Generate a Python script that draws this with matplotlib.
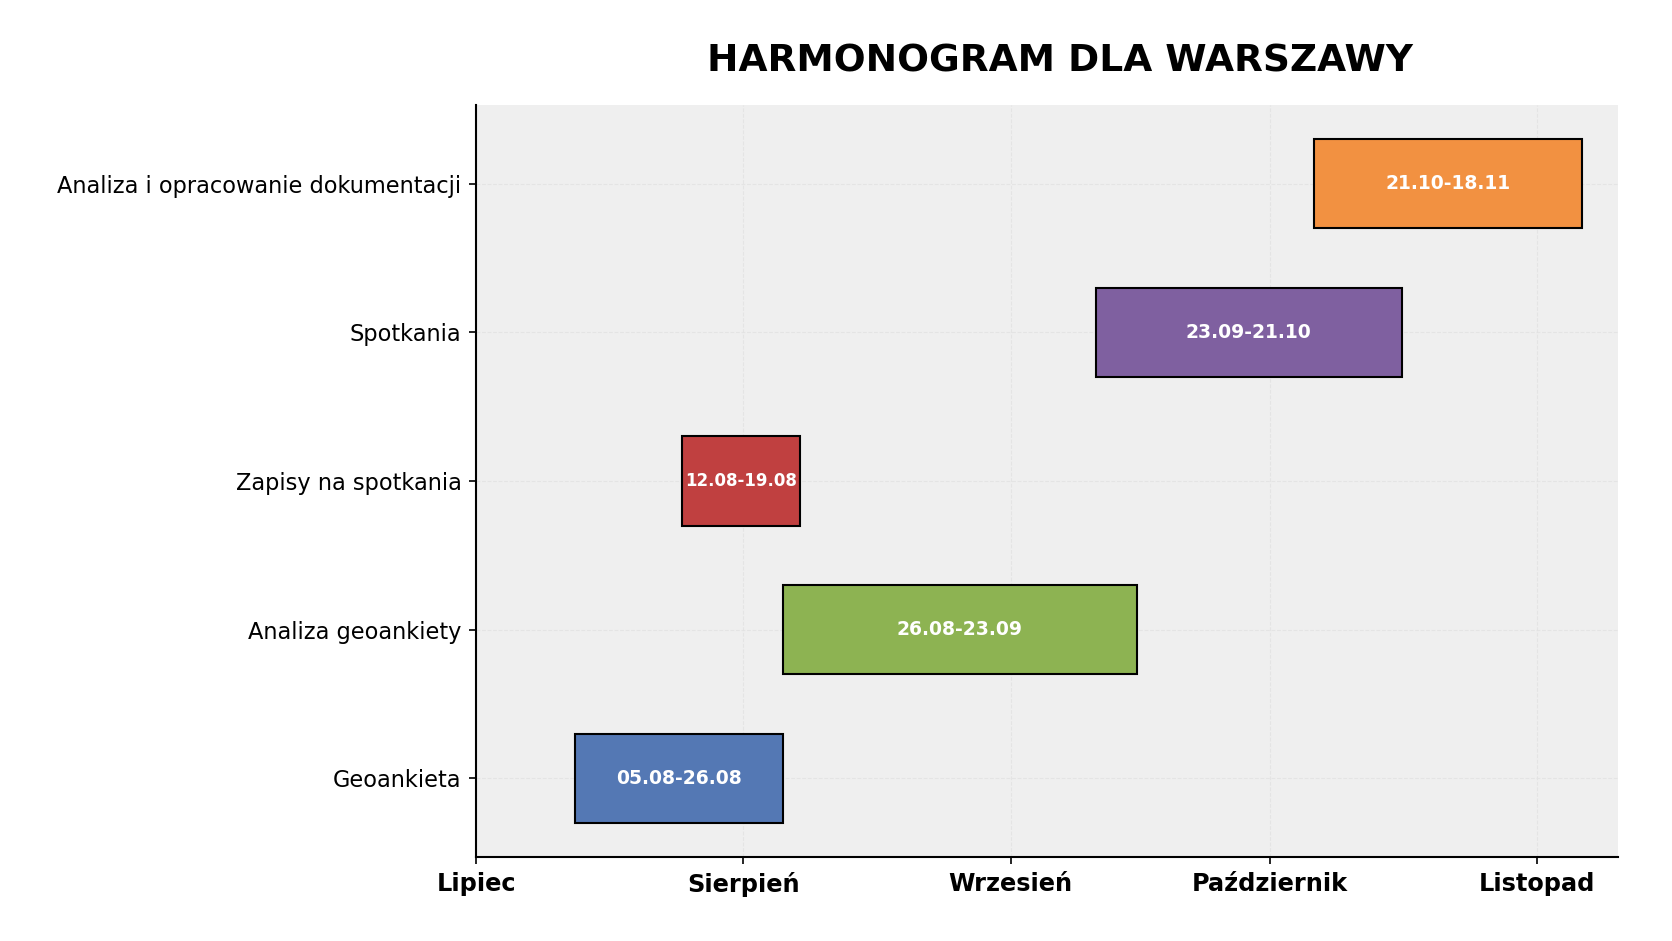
import matplotlib.pyplot as plt

# etapy harmonogramu (dni liczone od 1 lipca)
tasks = ["Geoankieta", "Analiza geoankiety", "Zapisy na spotkania",
         "Spotkania", "Analiza i opracowanie dokumentacji"]
start_day = [11.5, 35.6, 23.9, 71.9, 97.1]
end_day = [35.6, 76.6, 37.6, 107.3, 128.2]
date_labels = ["05.08-26.08", "26.08-23.09", "12.08-19.08",
               "23.09-21.10", "21.10-18.11"]
colors = ["#5478b4", "#8db352", "#c04040", "#7f60a0", "#f29141"]

month_names = ["Lipiec", "Sierpień", "Wrzesień", "Październik", "Listopad"]
month_days = [0, 31, 62, 92, 123]


def plot_schedule():
    fig = plt.figure(figsize=(1672 / 150, 941 / 150), dpi=150)
    ax = fig.add_axes([0.2847, 0.0893, 0.683, 0.7991])
    ax.set_facecolor("#efefef")
    ax.set_axisbelow(True)
    ax.grid(True, linestyle="--", color="#e2e2e2", linewidth=0.5, alpha=0.8)

    widths = [e - s for s, e in zip(start_day, end_day)]
    ypos = list(range(len(tasks)))
    ax.barh(ypos, widths, left=start_day, height=0.6, color=colors,
            edgecolor="black", linewidth=1.0)

    for y, s, w, lab in zip(ypos, start_day, widths, date_labels):
        size = 8 if w < 20 else 9
        ax.text(s + w / 2, y, lab, ha="center", va="center", color="white",
                fontsize=size, fontweight="bold")

    ax.set_yticks(ypos)
    ax.set_yticklabels(tasks, fontsize=10.8)
    ax.set_xticks(month_days)
    ax.set_xticklabels(month_names, fontsize=11.5, fontweight="bold")
    ax.set_xlim(0, 132.4)

    for side in ["top", "right"]:
        ax.spines[side].set_visible(False)
    for side in ["left", "bottom"]:
        ax.spines[side].set_linewidth(1.0)

    ax.set_title("HARMONOGRAM DLA WARSZAWY", fontsize=18, fontweight="bold",
                 pad=16, x=0.511)

    fig.savefig("out.png", dpi=150)


if __name__ == "__main__":
    plot_schedule()
